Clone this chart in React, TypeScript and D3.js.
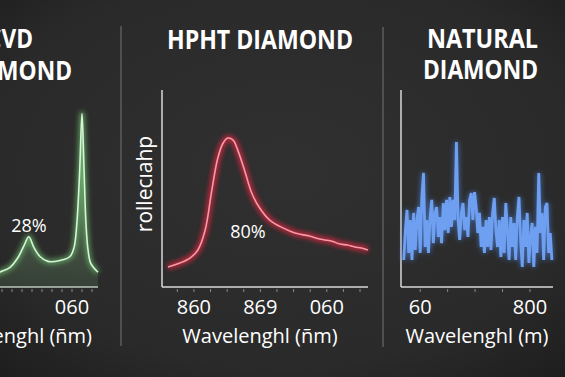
import React from "react";
import * as d3 from "d3";

// ---------- Data ----------
// CVD diamond (green) – wavelength (nm) and intensity
const cvdWavelengths = [445, 495, 520, 545, 565, 580, 592, 605, 620, 640, 670, 695, 705, 712, 719, 725, 730, 735, 740, 747, 765];
const cvdValues = [4, 5.5, 7.6, 10, 15, 21, 25.5, 20, 15.5, 13, 13.5, 15.5, 20, 32, 58, 88, 60, 32, 19, 12, 7.5];
const cvdTicks = [500, 700];
const cvdTickLabels = ["0", "060"];

// HPHT diamond (red)
const hphtWavelengths = [361, 379, 394, 406, 417, 427, 436, 444, 451, 459, 466, 477, 487, 499, 514, 534, 552, 563, 574, 586, 597, 608, 620, 631, 642, 652, 662];
const hphtValues = [10.2, 12.2, 14.7, 18.8, 28.9, 49.2, 65.5, 73.1, 75.6, 74.6, 69.5, 58.4, 47.7, 40.1, 34, 30, 27.4, 26.6, 25.9, 24.6, 23.9, 23.2, 21.8, 21.3, 20.3, 19.8, 18.8];
const hphtTicks = [400, 500, 600];
const hphtTickLabels = ["860", "869", "060"];

// Natural diamond (blue) – noisy spectrum
const natWavelengths = [
  570, 573, 576, 579, 582, 585, 588, 591, 594, 597, 600, 603, 606, 609, 612, 615, 618, 621, 624, 627,
  630, 633, 636, 639, 642, 645, 648, 651, 654, 657, 660, 663, 666, 669, 672, 675, 678, 681, 684, 687,
  690, 693, 696, 699, 702, 705, 708, 711, 714, 717, 720, 723, 726, 729, 732, 735, 738, 741, 744, 747,
  750, 753, 756, 759, 762, 765, 768, 771, 774, 777, 780, 783, 786, 789, 792, 795, 798, 801, 804, 807,
  810, 813, 816, 819, 822, 825, 828, 831, 834, 837, 840,
];
const natValues = [
  13.7, 28.9, 39.1, 17.3, 34, 13.7, 37.6, 18.8, 34, 40.6, 17.3, 45.7, 57.9, 20.3, 34, 17.3, 35.5, 44.2, 22.3, 37.6,
  40.6, 25.4, 35.5, 22.3, 42.6, 28.9, 44.2, 27.4, 45.7, 30.5, 44.2, 34, 73.6, 34, 23.9, 37.6, 42.6, 28.9, 35.5, 25.4,
  44.2, 47.7, 34, 48.2, 40.6, 27.4, 37.6, 20.3, 30.5, 17.3, 34, 20.3, 35.5, 18.8, 37.6, 45.2, 28.9, 20.3, 34, 15.2,
  35.5, 17.3, 42.6, 28.9, 13.7, 35.5, 20.3, 32.5, 13.7, 35.5, 45.7, 23.9, 10.2, 34, 20.3, 37.6, 12.2, 25.4, 32.5, 10.2,
  30.5, 17.3, 57.9, 27.4, 37.6, 13.7, 40.6, 42.6, 17.3, 27.4, 13.7,
];
const natTicks = [600, 800];
const natTickLabels = ["60", "800"];

const FONT = "'Open Sans', 'Noto Sans', sans-serif";

// ---------- Scales ----------
const yScale = d3.scaleLinear().domain([0, 100]).range([287, 90]);
const x1 = d3.scaleLinear().domain([270, 765]).range([-100, 98]);
const x2 = d3.scaleLinear().domain([352, 662]).range([162, 368]);
const x3 = d3.scaleLinear().domain([565, 842]).range([401, 553]);

type P = [number, number];
const zip = (a: number[], b: number[]): P[] => a.map((v, i) => [v, b[i]]);

function lineFor(x: d3.ScaleLinear<number, number>, curve: d3.CurveFactory) {
  return d3
    .line<P>()
    .x((d) => x(d[0]))
    .y((d) => yScale(d[1]))
    .curve(curve);
}

function MinorTicks({ x, step }: { x: d3.ScaleLinear<number, number>; step: number }) {
  const [a, b] = x.domain();
  const vals = d3.range(Math.ceil(a / step) * step, b, step);
  return (
    <g>
      {vals.map((v) => (
        <line key={v} x1={x(v)} x2={x(v)} y1={289} y2={292} stroke="#8a8a8a" strokeWidth={1} />
      ))}
    </g>
  );
}

function Title({ x, y, w, children }: { x: number; y: number; w: number; children: string }) {
  return (
    <text
      x={x}
      y={y}
      textLength={w}
      lengthAdjust="spacingAndGlyphs"
      fontFamily={FONT}
      fontWeight={700}
      fontSize={27}
      fill="#ffffff"
    >
      {children}
    </text>
  );
}

export default function App() {
  const cvd = zip(cvdWavelengths, cvdValues);
  const hpht = zip(hphtWavelengths, hphtValues);
  const nat = zip(natWavelengths, natValues);

  const cvdLine = lineFor(x1, d3.curveCatmullRom.alpha(0.5))(cvd) || "";
  const cvdArea =
    d3
      .area<P>()
      .x((d) => x1(d[0]))
      .y0(yScale(0))
      .y1((d) => yScale(d[1]))
      .curve(d3.curveCatmullRom.alpha(0.5))(cvd) || "";
  const hphtLine = lineFor(x2, d3.curveCatmullRom.alpha(0.5))(hpht) || "";
  const natLine = lineFor(x3, d3.curveLinear)(nat) || "";

  return (
    <svg
      width={565}
      height={377}
      viewBox="0 0 565 377"
      style={{ position: "absolute", left: 0, top: 0, display: "block" }}
    >
      <defs>
        <radialGradient id="bg" cx="50%" cy="45%" r="75%">
          <stop offset="0%" stopColor="#303030" />
          <stop offset="70%" stopColor="#2a2a2a" />
          <stop offset="100%" stopColor="#1d1d1d" />
        </radialGradient>
        <linearGradient id="greenFill" x1="0" y1="0" x2="0" y2="1">
          <stop offset="0%" stopColor="#9fd49f" stopOpacity={0.55} />
          <stop offset="60%" stopColor="#6f9a6f" stopOpacity={0.45} />
          <stop offset="100%" stopColor="#4e6a4e" stopOpacity={0.35} />
        </linearGradient>
        <filter id="glow" x="-20%" y="-20%" width="140%" height="140%">
          <feGaussianBlur stdDeviation="2.5" />
        </filter>
        <filter id="soft" x="-10%" y="-10%" width="120%" height="120%">
          <feGaussianBlur stdDeviation="0.6" />
        </filter>
      </defs>
      <rect x={0} y={0} width={565} height={377} fill="url(#bg)" />

      {/* separators */}
      <line x1={121} x2={121} y1={26} y2={346} stroke="#5c5c5c" strokeWidth={1.5} />
      <line x1={383} x2={383} y1={27} y2={347} stroke="#5c5c5c" strokeWidth={1.5} />

      {/* ---------- Panel 1: CVD ---------- */}
      <Title x={-13} y={48} w={46}>CVD</Title>
      <Title x={-43} y={80} w={115}>DIAMOND</Title>
      <path d={cvdArea} fill="url(#greenFill)" />
      <path d={cvdLine} fill="none" stroke="#6fc06f" strokeWidth={5} opacity={0.7} filter="url(#glow)" />
      <path d={cvdLine} fill="none" stroke="#d6f5d6" strokeWidth={1.6} />
      <line x1={-100} x2={98} y1={287} y2={287} stroke="#b9c9b9" strokeWidth={1.5} />
      <MinorTicks x={x1} step={25} />
      <g fontFamily={FONT} fill="#ffffff" fontSize={20} fontWeight={500}>
        {cvdTicks.map((t, i) => (
          <text key={t} x={x1(t)} y={314} textAnchor="middle">{cvdTickLabels[i]}</text>
        ))}
        <text x={92} y={343} textAnchor="end">Wavelenghl (ñm)</text>
        <text x={29} y={232} textAnchor="middle" fontSize={18}>28%</text>
      </g>

      {/* ---------- Panel 2: HPHT ---------- */}
      <Title x={167} y={49} w={186}>HPHT DIAMOND</Title>
      <line x1={162} x2={162} y1={90} y2={287} stroke="#d8d8d8" strokeWidth={1.5} />
      <line x1={162} x2={368} y1={287} y2={287} stroke="#d8d8d8" strokeWidth={1.5} />
      <MinorTicks x={x2} step={25} />
      <path d={hphtLine} fill="none" stroke="#e0283f" strokeWidth={5.5} opacity={0.85} filter="url(#glow)" />
      <path d={hphtLine} fill="none" stroke="#f59aa8" strokeWidth={1.6} />
      <g fontFamily={FONT} fill="#ffffff" fontWeight={500}>
        <text
          transform={`translate(${152},${184}) rotate(-90)`}
          textAnchor="middle"
          fontSize={21}
        >
          rollecıahp
        </text>
        <text x={248} y={238} textAnchor="middle" fontSize={18}>80%</text>
        {hphtTicks.map((t, i) => (
          <text key={t} x={x2(t)} y={314} textAnchor="middle" fontSize={20}>{hphtTickLabels[i]}</text>
        ))}
        <text x={260} y={343} textAnchor="middle" fontSize={20}>Wavelenghl (ñm)</text>
      </g>

      {/* ---------- Panel 3: Natural ---------- */}
      <Title x={427} y={48} w={111}>NATURAL</Title>
      <Title x={423} y={79} w={115}>DIAMOND</Title>
      <line x1={401} x2={401} y1={90} y2={287} stroke="#d8d8d8" strokeWidth={1.5} />
      <line x1={401} x2={553} y1={287} y2={287} stroke="#d8d8d8" strokeWidth={1.5} />
      <MinorTicks x={x3} step={50} />
      <path d={natLine} fill="none" stroke="#4f86e0" strokeWidth={4.5} opacity={0.6} filter="url(#glow)" />
      <path d={natLine} fill="none" stroke="#6e9ff0" strokeWidth={2.8} filter="url(#soft)" />
      <g fontFamily={FONT} fill="#ffffff" fontSize={20} fontWeight={500}>
        {natTicks.map((t, i) => (
          <text key={t} x={x3(t)} y={314} textAnchor="middle">{natTickLabels[i]}</text>
        ))}
        <text x={477} y={343} textAnchor="middle">Wavelenghl (m)</text>
      </g>
    </svg>
  );
}
